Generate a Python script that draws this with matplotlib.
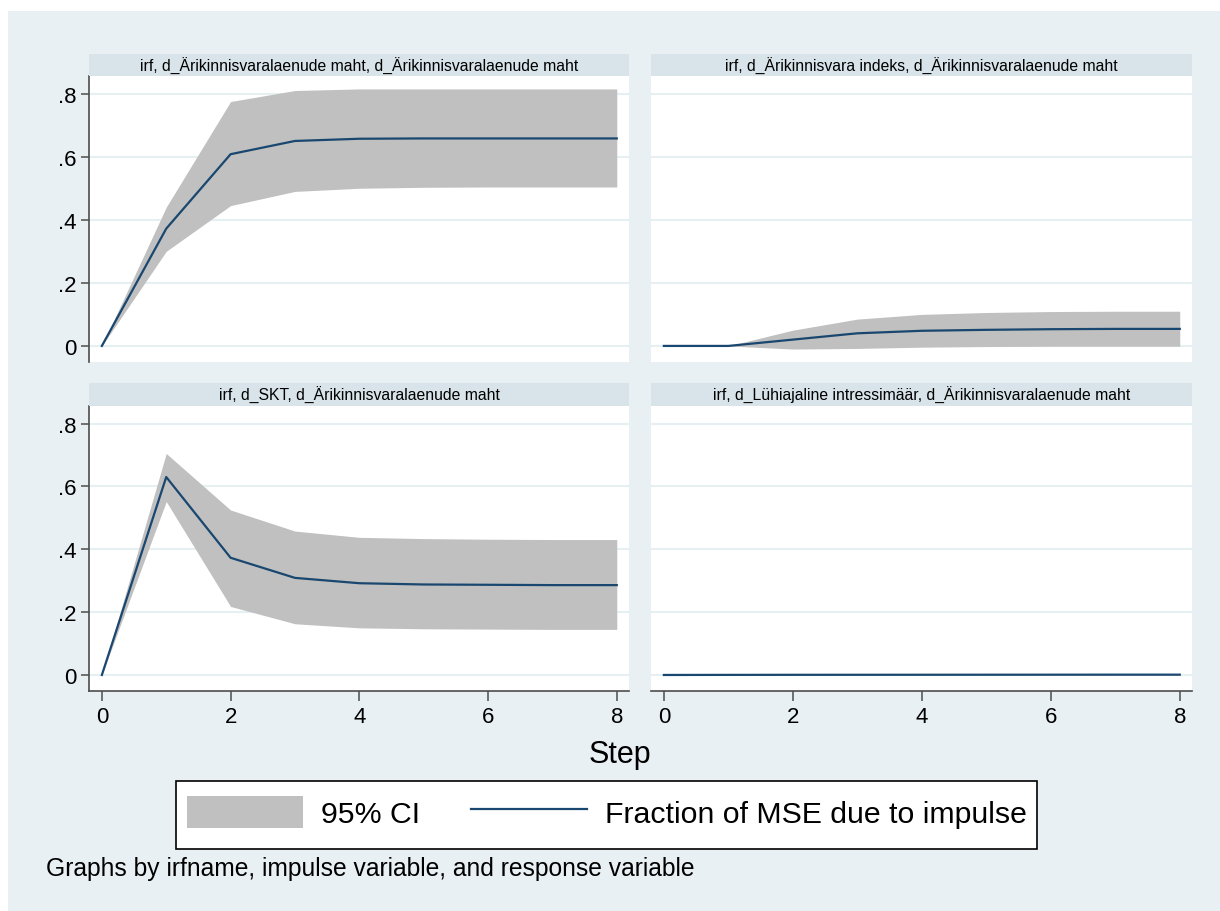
import matplotlib
matplotlib.use("Agg")
import matplotlib.pyplot as plt
from matplotlib.patches import Rectangle

plt.rcParams['font.family'] = ['Liberation Sans', 'DejaVu Sans']

steps = [0, 1, 2, 3, 4, 5, 6, 7, 8]

titles = [
    "irf, d_Ärikinnisvaralaenude maht, d_Ärikinnisvaralaenude maht",
    "irf, d_Ärikinnisvara indeks, d_Ärikinnisvaralaenude maht",
    "irf, d_SKT, d_Ärikinnisvaralaenude maht",
    "irf, d_Lühiajaline intressimäär, d_Ärikinnisvaralaenude maht",
]

fevd_1 = [0, 0.372, 0.608, 0.650, 0.657, 0.658, 0.658, 0.658, 0.658]
upper_1 = [0, 0.440, 0.775, 0.810, 0.815, 0.815, 0.815, 0.815, 0.815]
lower_1 = [0, 0.300, 0.445, 0.490, 0.500, 0.503, 0.504, 0.504, 0.504]

fevd_2 = [0, 0, 0.020, 0.040, 0.048, 0.051, 0.053, 0.054, 0.054]
upper_2 = [0, 0, 0.050, 0.085, 0.100, 0.106, 0.109, 0.110, 0.110]
lower_2 = [0, 0, -0.010, -0.008, -0.004, -0.002, -0.001, -0.001, -0.001]

fevd_3 = [0, 0.630, 0.373, 0.309, 0.292, 0.288, 0.287, 0.286, 0.286]
upper_3 = [0, 0.705, 0.525, 0.458, 0.438, 0.434, 0.432, 0.431, 0.431]
lower_3 = [0, 0.552, 0.218, 0.163, 0.150, 0.147, 0.146, 0.145, 0.145]

fevd_4 = [0, 0.0003, 0.0005, 0.0006, 0.0007, 0.0008, 0.0009, 0.001, 0.001]
upper_4 = [0, 0.0010, 0.0015, 0.0020, 0.0025, 0.0028, 0.0030, 0.0032, 0.0033]
lower_4 = [0, 0, 0, 0, 0, 0, 0, 0, 0]

series = [(fevd_1, upper_1, lower_1), (fevd_2, upper_2, lower_2),
          (fevd_3, upper_3, lower_3), (fevd_4, upper_4, lower_4)]

yticks = [0, 0.2, 0.4, 0.6, 0.8]
ytick_labels = ["0", ".2", ".4", ".6", ".8"]
xticks = [0, 2, 4, 6, 8]

W, H = 1220, 912
BG = "#e8f0f3"
BAR = "#d8e4ea"
GRID = "#e6eff2"
LINE = "#1a476f"
BAND = "#c0c0c0"
AX = "#4d4d4d"

fig = plt.figure(figsize=(W / 100, H / 100), dpi=100, facecolor=BG)

def px_rect(x0, y0, x1, y1):
    return [x0 / W, 1 - y1 / H, (x1 - x0) / W, (y1 - y0) / H]

# white outer margins at top and left
fig.patches.append(Rectangle((0, 1 - 12 / H), 1, 12 / H, transform=fig.transFigure,
                             facecolor="white", edgecolor="none", zorder=-5))
fig.patches.append(Rectangle((0, 0), 8 / W, 1, transform=fig.transFigure,
                             facecolor="white", edgecolor="none", zorder=-5))

layout = [
    ((89, 77, 629, 363), (89, 55, 629, 77), True, False),
    ((651, 77, 1192, 363), (651, 55, 1192, 77), False, False),
    ((89, 407, 629, 692), (89, 384, 629, 407), True, True),
    ((651, 407, 1192, 692), (651, 384, 1192, 407), False, True),
]

handles = None
for i, ((px0, py0, px1, py1), (tx0, ty0, tx1, ty1), left, bottom) in enumerate(layout):
    ax = fig.add_axes(px_rect(px0, py0, px1, py1))
    ax.set_facecolor("white")
    f, up, lo = series[i]
    band = ax.fill_between(steps, lo, up, color=BAND, linewidth=0, zorder=2)
    ln, = ax.plot(steps, f, color=LINE, linewidth=1.6, zorder=3)
    handles = [band, ln]
    ax.set_xlim(-0.2, 8.19)
    ax.set_ylim(-0.051, 0.856)
    ax.set_yticks(yticks)
    ax.grid(axis="y", color=GRID, linewidth=1.5, zorder=1)
    ax.set_axisbelow(True)
    for s in ["top", "right"]:
        ax.spines[s].set_visible(False)
    ax.spines["left"].set_visible(left)
    ax.spines["bottom"].set_visible(bottom)
    for s in ["left", "bottom"]:
        ax.spines[s].set_color(AX)
        ax.spines[s].set_linewidth(1.2)
    if left:
        ax.set_yticklabels(ytick_labels)
        ax.tick_params(axis="y", length=6, width=1.1, color=AX, labelsize=16, pad=3)
    else:
        ax.tick_params(axis="y", left=False, labelleft=False)
    if bottom:
        ax.set_xticks(xticks)
        ax.tick_params(axis="x", length=7, width=1.1, color=AX, labelsize=16, pad=4)
    else:
        ax.tick_params(axis="x", bottom=False, labelbottom=False)

    tax = fig.add_axes(px_rect(tx0, ty0, tx1, ty1))
    tax.set_facecolor(BAR)
    tax.set_xticks([])
    tax.set_yticks([])
    for s in tax.spines.values():
        s.set_visible(False)
    tax.text(0.5, 0.5, titles[i], ha="center", va="center", fontsize=11.3,
             transform=tax.transAxes)

fig.text(620 / W, 1 - 755 / H, "Step", ha="center", va="center", fontsize=22)

# legend frame
fig.patches.append(Rectangle((176 / W, 1 - 850 / H), (1037 - 176) / W, (850 - 782) / H,
                             transform=fig.transFigure, facecolor="white",
                             edgecolor="black", linewidth=1.2, zorder=1))

leg = fig.legend(handles, ["95% CI", "Fraction of MSE due to impulse"],
                 loc="center", bbox_to_anchor=(607 / W, 1 - 813 / H), ncol=2,
                 fontsize=21.8, frameon=False,
                 handlelength=3.83, handleheight=1.25, handletextpad=0.6,
                 columnspacing=1.7, borderpad=0.2, borderaxespad=0)
leg.set_zorder(5)

fig.text(46 / W, 1 - 869 / H, "Graphs by irfname, impulse variable, and response variable",
         ha="left", va="center", fontsize=17.7)

fig.savefig("out.png", dpi=100, facecolor=BG)
